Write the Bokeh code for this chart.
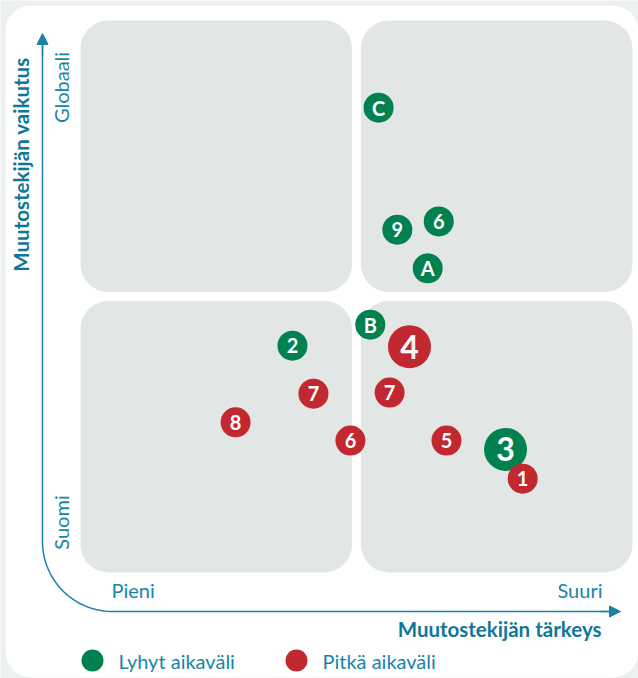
import numpy as np
from bokeh.plotting import figure
from bokeh.models import Range1d, BoxAnnotation, Label, Arrow, NormalHead, ColumnDataSource
from bokeh.core.properties import value
from bokeh.embed import file_html
from bokeh.resources import INLINE

# ---------------- data ----------------
labels     = ["C", "9", "6", "A", "B", "4", "2", "7", "7", "8", "6", "5", "3", "1"]
importance = [5.40, 5.74, 6.49, 6.29, 5.25, 5.96, 3.84, 4.22, 5.60, 2.81, 4.89, 6.63, 7.70, 8.01]
impact     = [8.42, 6.21, 6.36, 5.51, 4.49, 4.09, 4.11, 3.24, 3.26, 2.72, 2.39, 2.39, 2.23, 1.70]
term       = ["Lyhyt", "Lyhyt", "Lyhyt", "Lyhyt", "Lyhyt", "Pitkä", "Lyhyt",
              "Pitkä", "Pitkä", "Pitkä", "Pitkä", "Pitkä", "Lyhyt", "Pitkä"]
weight     = [1, 1, 1, 1, 1, 2, 1, 1, 1, 1, 1, 1, 2, 1]

legend_labels = ["Lyhyt aikaväli", "Pitkä aikaväli"]
x_title = "Muutostekijän tärkeys"
y_title = "Muutostekijän vaikutus"
x_low, x_high = "Pieni", "Suuri"
y_low, y_high = "Suomi", "Globaali"

# ---------------- styling ----------------
GREEN = "#00814f"
RED = "#c1282f"
TEAL = "#1a84a6"
TEAL_DARK = "#0f7799"
QUAD = "#e2e6e5"
OUTER = "#edf0f0"
FONT = "Lato"

PX = 55.2  # pixels per data unit
def X(px):
    return (px - 80) / PX
def Y(py):
    return (572 - py) / PX

p = figure(width=638, height=678, x_range=Range1d(X(0), X(638)), y_range=Range1d(Y(678), Y(0)),
           output_backend="svg", toolbar_location=None, min_border=0)
p.axis.visible = False
p.grid.visible = False
p.outline_line_color = None
p.background_fill_color = OUTER
p.border_fill_color = OUTER

# white card
p.add_layout(BoxAnnotation(left=X(5), right=X(638), bottom=Y(677), top=Y(5),
                           fill_color="white", fill_alpha=1, line_color=None,
                           border_radius=26, level="underlay"))
# quadrants
split, gap = 5.0, 0.08
for (l, r) in [(0, split - gap), (split + gap, 10)]:
    for (b, t) in [(0, split - gap), (split + gap, 10)]:
        p.add_layout(BoxAnnotation(left=l, right=r, bottom=b, top=t,
                                   fill_color=QUAD, fill_alpha=1, line_color=None,
                                   border_radius=28, level="underlay"))

# axis path with rounded corner
x0, y0, rad = X(42), Y(611), 70 / PX
top, right = Y(44), X(610)
ang = np.linspace(np.pi, 1.5 * np.pi, 40)
px_path = np.concatenate([[x0, x0], x0 + rad + rad * np.cos(ang), [right]])
py_path = np.concatenate([[top, y0 + rad], y0 + rad + rad * np.sin(ang), [y0]])
p.line(px_path, py_path, line_color=TEAL, line_width=1.5)
p.add_layout(Arrow(end=NormalHead(size=11, fill_color=TEAL, line_color=TEAL),
                   x_start=x0, y_start=Y(55), x_end=x0, y_end=Y(33),
                   line_color=TEAL, line_width=1.5))
p.add_layout(Arrow(end=NormalHead(size=11, fill_color=TEAL, line_color=TEAL),
                   x_start=X(600), y_start=y0, x_end=X(620), y_end=y0,
                   line_color=TEAL, line_width=1.5))

def lab(x, y, text, align="left", angle=0, size="20px", style="normal", color=TEAL):
    p.add_layout(Label(x=x, y=y, text=text, angle=angle, text_align=align,
                       text_baseline="middle", text_font=FONT, text_font_size=size,
                       text_font_style=style, text_color=color))

lab(X(60), Y(87), y_high, align="center", angle=np.pi / 2)
lab(X(60), Y(522), y_low, align="center", angle=np.pi / 2)
lab(X(111), Y(589), x_low)
lab(X(602), Y(589), x_high, align="right")
lab(X(20), Y(164), y_title, align="center", angle=np.pi / 2, size="20.5px", style="bold", color=TEAL_DARK)
lab(X(601), Y(628), x_title, align="right", size="20.5px", style="bold", color=TEAL_DARK)

# points
src = ColumnDataSource(dict(
    x=importance, y=impact, label=labels,
    color=[GREEN if t == "Lyhyt" else RED for t in term],
    size=[30 if w == 1 else 43 for w in weight],
    fsize=["20px" if w == 1 else "32px" for w in weight],
))
p.scatter("x", "y", source=src, size="size", fill_color="color", line_color=None)
p.text("x", "y", text="label", source=src, text_color="white", text_font=value(FONT),
       text_font_style="bold", text_font_size="fsize", text_align="center", text_baseline="middle")

# legend
p.scatter([X(92), X(296)], [Y(660), Y(660)], size=22, fill_color=[GREEN, RED], line_color=None)
lab(X(118), Y(660), legend_labels[0])
lab(X(322), Y(660), legend_labels[1])

open("out.html", "w").write(file_html(p, INLINE))
